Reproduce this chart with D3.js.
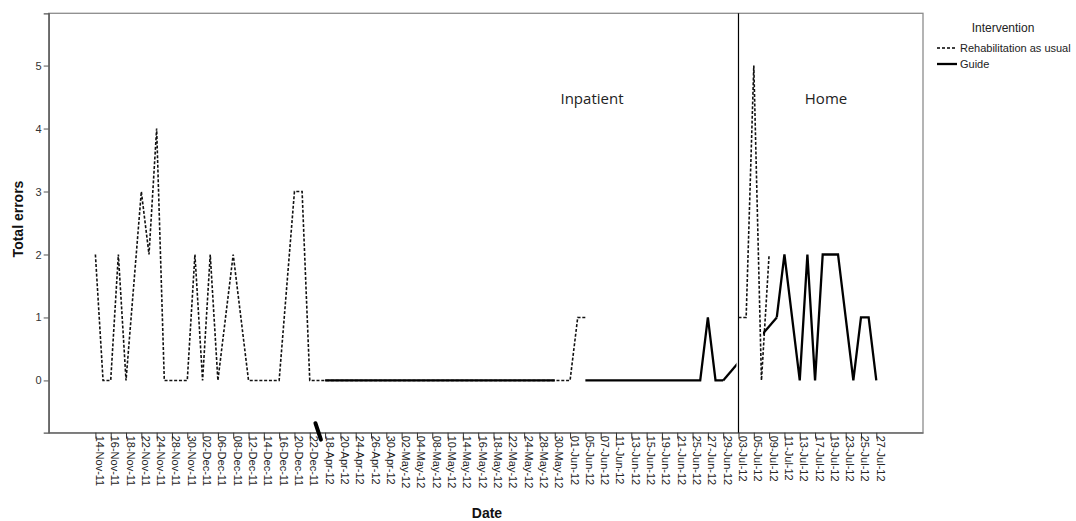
<!DOCTYPE html>
<html><head><meta charset="utf-8">
<script src="https://cdn.jsdelivr.net/npm/d3@7"></script>
<style>body{margin:0;background:#fff}</style>
</head><body>
<svg id="c" width="1076" height="521"></svg>
<script>
// ---------- DATA ----------
const categories = [
  "14-Nov-11","15-Nov-11","16-Nov-11","17-Nov-11","18-Nov-11","21-Nov-11","22-Nov-11","23-Nov-11","24-Nov-11","25-Nov-11",
  "28-Nov-11","29-Nov-11","30-Nov-11","01-Dec-11","02-Dec-11","05-Dec-11","06-Dec-11","07-Dec-11","08-Dec-11","09-Dec-11",
  "12-Dec-11","13-Dec-11","14-Dec-11","15-Dec-11","16-Dec-11","19-Dec-11","20-Dec-11","21-Dec-11","22-Dec-11","23-Dec-11",
  "18-Apr-12","19-Apr-12","20-Apr-12","23-Apr-12","24-Apr-12","25-Apr-12","26-Apr-12","27-Apr-12","30-Apr-12","01-May-12",
  "02-May-12","03-May-12","04-May-12","07-May-12","08-May-12","09-May-12","10-May-12","11-May-12","14-May-12","15-May-12",
  "16-May-12","17-May-12","18-May-12","21-May-12","22-May-12","23-May-12","24-May-12","25-May-12","28-May-12","29-May-12",
  "30-May-12","31-May-12","01-Jun-12","04-Jun-12","05-Jun-12","06-Jun-12","07-Jun-12","08-Jun-12","11-Jun-12","12-Jun-12",
  "13-Jun-12","14-Jun-12","15-Jun-12","18-Jun-12","19-Jun-12","20-Jun-12","21-Jun-12","22-Jun-12","25-Jun-12","26-Jun-12",
  "27-Jun-12","28-Jun-12","29-Jun-12","02-Jul-12","03-Jul-12","04-Jul-12","05-Jul-12","06-Jul-12","09-Jul-12","10-Jul-12",
  "11-Jul-12","12-Jul-12","13-Jul-12","16-Jul-12","17-Jul-12","18-Jul-12","19-Jul-12","20-Jul-12","23-Jul-12","24-Jul-12",
  "25-Jul-12","26-Jul-12","27-Jul-12"
];
const tickLabels = [
  "14-Nov-11","16-Nov-11","18-Nov-11","22-Nov-11","24-Nov-11","28-Nov-11","30-Nov-11","02-Dec-11","06-Dec-11","08-Dec-11",
  "12-Dec-11","14-Dec-11","16-Dec-11","20-Dec-11","22-Dec-11","18-Apr-12","20-Apr-12","24-Apr-12","26-Apr-12","30-Apr-12",
  "02-May-12","04-May-12","08-May-12","10-May-12","14-May-12","16-May-12","18-May-12","22-May-12","24-May-12","28-May-12",
  "30-May-12","01-Jun-12","05-Jun-12","07-Jun-12","11-Jun-12","13-Jun-12","15-Jun-12","19-Jun-12","21-Jun-12","25-Jun-12",
  "27-Jun-12","29-Jun-12","03-Jul-12","05-Jul-12","09-Jul-12","11-Jul-12","13-Jul-12","17-Jul-12","19-Jul-12","23-Jul-12",
  "25-Jul-12","27-Jul-12"
];
const rehabValues = [
  2,0,0,2,0,1.5,3,2,4,0,
  0,0,0,2,0,2,0,1,2,1,
  0,0,0,0,0,1.5,3,3,0,0,
  0,0,0,0,0,0,0,0,0,0,
  0,0,0,0,0,0,0,0,0,0,
  0,0,0,0,0,0,0,0,0,0,
  0,0,0,1,1,null,null,null,null,null,
  null,null,null,null,null,null,null,null,null,null,
  null,null,null,null,1,1,5,0,2,null,
  null,null,null,null,null,null,null,null,null,null,
  null,null,null
];
const guideValues = [
  null,null,null,null,null,null,null,null,null,null,
  null,null,null,null,null,null,null,null,null,null,
  null,null,null,null,null,null,null,null,null,null,
  0,0,0,0,0,0,0,0,0,0,
  0,0,0,0,0,0,0,0,0,0,
  0,0,0,0,0,0,0,0,0,0,
  0,null,null,null,0,0,0,0,0,0,
  0,0,0,0,0,0,0,0,0,0,
  1,0,0,null,null,null,null,null,null,1,
  2,1,0,2,0,2,2,2,1,0,
  1,1,0
];
const yTicks = [0,1,2,3,4,5];
const seriesNames = ["Rehabilitation as usual","Guide"];
const legendTitle = "Intervention";
const phaseLabels = ["Inpatient","Home"];
const phaseStart = "03-Jul-12";
const axisBreakAt = "23-Dec-11";
const guideBridge = ["29-Jun-12","10-Jul-12"];
const guideBridgeHidden = ["03-Jul-12","06-Jul-12"];

// ---------- LAYOUT ----------
const L = 48.7, R = 923, T = 13.3, B = 432.7;
const svg = d3.select("#c");
const x = d3.scalePoint().domain(categories).range([L, R]).padding(6.1);
const y = d3.scaleLinear().domain([-0.83, 5.83]).range([B, T]);
const font = "'Liberation Sans', Arial, sans-serif";

// frame
svg.append("rect").attr("x", L).attr("y", T).attr("width", R - L).attr("height", B - T)
  .attr("fill", "none").attr("stroke", "#8c8c8c").attr("stroke-width", 1.3);

// y axis
const yAxis = svg.append("g").attr("transform", `translate(${L},0)`)
  .call(d3.axisLeft(y).tickValues(yTicks).tickSize(5).tickPadding(2).tickFormat(d3.format("d")));
yAxis.select(".domain").attr("stroke", "#555").attr("stroke-width", 1.3);
yAxis.selectAll(".tick line").attr("stroke", "#555");
yAxis.selectAll(".tick text").attr("font-family", font).attr("font-size", 11).attr("fill", "#333");

// x axis
const xAxis = svg.append("g").attr("transform", `translate(0,${B})`)
  .call(d3.axisBottom(x).tickValues(tickLabels).tickSize(6).tickSizeOuter(0));
xAxis.select(".domain").attr("stroke", "#666").attr("stroke-width", 1.3);
xAxis.selectAll(".tick line").attr("stroke", "#333");
xAxis.selectAll(".tick text")
  .attr("font-family", font).attr("font-size", 11).attr("fill", "#222")
  .attr("text-anchor", "start")
  .attr("transform", "rotate(90)")
  .attr("x", 3).attr("y", 0).attr("dy", "0.0em");

// axis titles
svg.append("text").attr("transform", `translate(23,${(T + B) / 2 - 4}) rotate(-90)`)
  .attr("text-anchor", "middle").attr("font-family", font).attr("font-weight", "bold")
  .attr("font-size", 14).attr("fill", "#111").text("Total errors");
svg.append("text").attr("x", 487).attr("y", 518)
  .attr("text-anchor", "middle").attr("font-family", font).attr("font-weight", "bold")
  .attr("font-size", 14).attr("fill", "#111").text("Date");

// phase divider
svg.append("line").attr("x1", x(phaseStart)).attr("x2", x(phaseStart)).attr("y1", T).attr("y2", B)
  .attr("stroke", "#000").attr("stroke-width", 1.2);

// series
const pts = vals => categories.map((c, i) => ({ c, v: vals[i] }));
const line = d3.line().defined(d => d.v != null).x(d => x(d.c)).y(d => y(d.v));

svg.append("path").datum(pts(rehabValues)).attr("d", line)
  .attr("fill", "none").attr("stroke", "#111").attr("stroke-width", 1.6)
  .attr("stroke-dasharray", "3,1.8");

svg.append("path").datum(pts(guideValues)).attr("d", line)
  .attr("fill", "none").attr("stroke", "#000").attr("stroke-width", 2.3)
  .attr("stroke-linejoin", "miter");

// guide connector across missing days, partly hidden
const bridgePts = guideBridge.map(c => ({ c, v: guideValues[categories.indexOf(c)] }));
const hx0 = x(guideBridgeHidden[0]) - 2, hx1 = x(guideBridgeHidden[1]) + 1.5;
const defs = svg.append("defs");
const cp = defs.append("clipPath").attr("id", "bridgeClip");
cp.append("rect").attr("x", L).attr("y", T).attr("width", hx0 - L).attr("height", B - T);
cp.append("rect").attr("x", hx1).attr("y", T).attr("width", R - hx1).attr("height", B - T);
svg.append("path").datum(bridgePts).attr("d", line).attr("clip-path", "url(#bridgeClip)")
  .attr("fill", "none").attr("stroke", "#000").attr("stroke-width", 2.3);

// axis break mark
const bx = x(axisBreakAt);
svg.append("line").attr("x1", bx - 2).attr("y1", B - 9.5).attr("x2", bx + 3.5).attr("y2", B + 7)
  .attr("stroke", "#000").attr("stroke-width", 4).attr("stroke-linecap", "round");

// phase labels
const phaseFont = "'Open Sans', 'Noto Sans', sans-serif";
svg.append("text").attr("x", 592).attr("y", 104).attr("text-anchor", "middle")
  .attr("font-family", phaseFont).attr("font-size", 15).attr("fill", "#222").text(phaseLabels[0]);
svg.append("text").attr("x", 826).attr("y", 104).attr("text-anchor", "middle")
  .attr("font-family", phaseFont).attr("font-size", 15).attr("fill", "#222").text(phaseLabels[1]);

// legend
svg.append("text").attr("x", 1003).attr("y", 32).attr("text-anchor", "middle")
  .attr("font-family", font).attr("font-size", 12).attr("fill", "#222").text(legendTitle);
const leg = svg.append("g");
seriesNames.forEach((name, i) => {
  const ly = 48 + i * 16;
  leg.append("line").attr("x1", 937).attr("x2", 957).attr("y1", ly).attr("y2", ly)
    .attr("stroke", "#000").attr("stroke-width", i === 0 ? 1.4 : 2.3)
    .attr("stroke-dasharray", i === 0 ? "3,2" : null);
  leg.append("text").attr("x", 960).attr("y", ly + 4)
    .attr("font-family", font).attr("font-size", 11).attr("fill", "#222").text(name);
});
</script>
</body></html>
